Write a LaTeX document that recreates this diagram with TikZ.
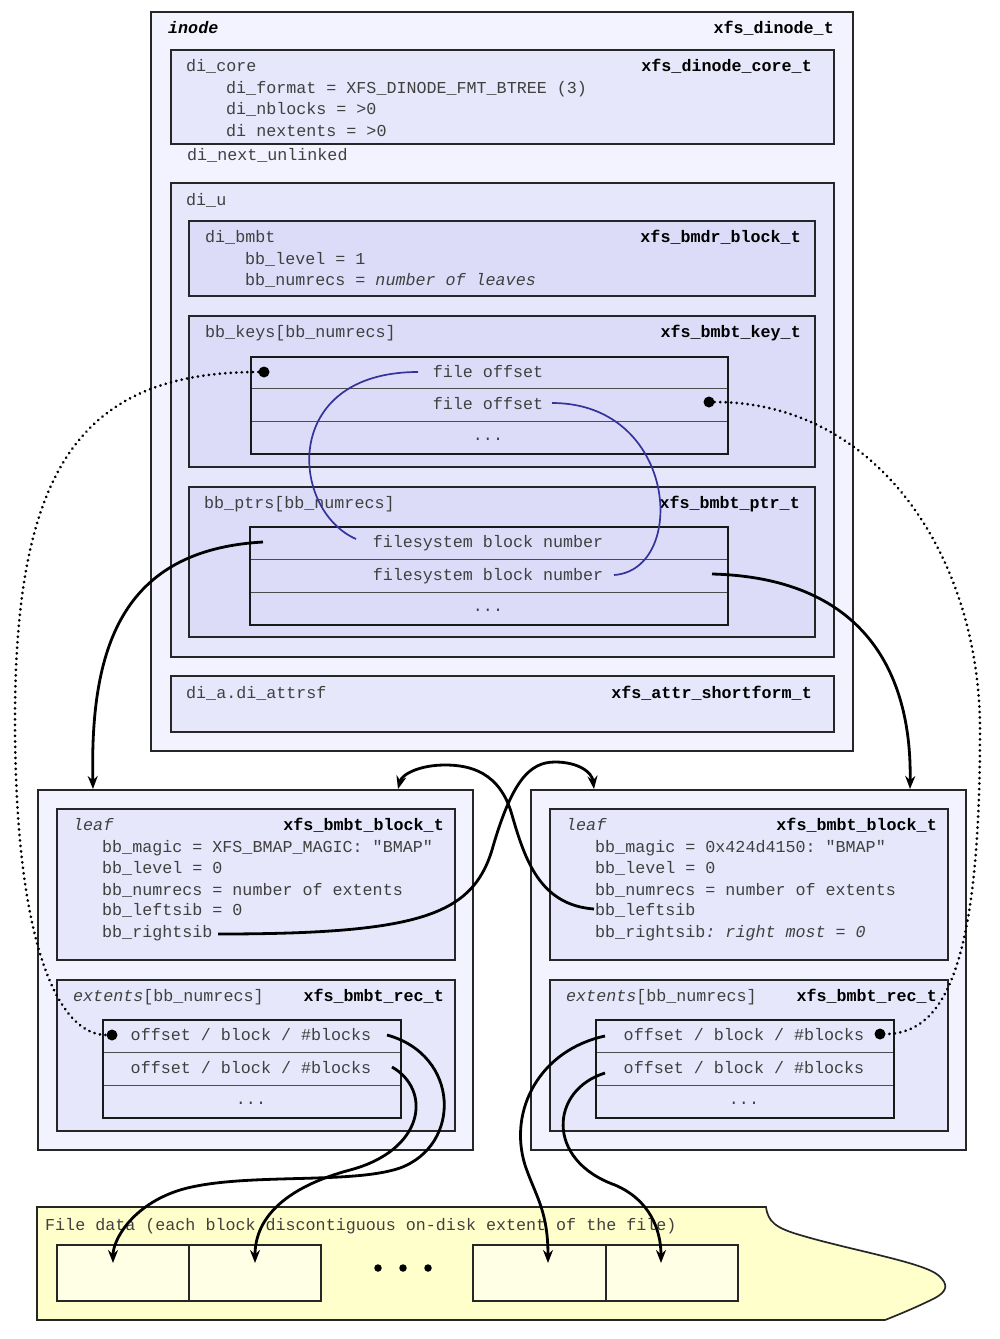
\documentclass[tikz,border=0pt]{standalone}
\usepackage{fontspec}
\setmonofont{Liberation Mono}
\usetikzlibrary{arrows.meta}
\definecolor{lavA}{HTML}{F3F3FF}
\definecolor{lavB}{HTML}{E7E7FB}
\definecolor{lavC}{HTML}{DCDCF9}
\definecolor{yelA}{HTML}{FFFFCC}
\definecolor{yelB}{HTML}{FFFFE6}
\definecolor{txtg}{HTML}{404040}
\definecolor{bluel}{HTML}{333399}
\newcommand{\mf}{\ttfamily\fontsize{16.7pt}{20pt}\selectfont}
\tikzset{
  bx/.style={draw=black!85, line width=1.7pt, anchor=north west, inner sep=0pt},
  rowc/.style={draw=black!70, line width=1.3pt, anchor=north west, inner sep=0pt},
  tblo/.style={draw=black!90, line width=1.5pt, anchor=north west, inner sep=0pt},
  lbl/.style={anchor=base west, inner sep=0pt, text=txtg, font=\mf},
  cen/.style={anchor=base, inner sep=0pt, text=txtg, font=\mf},
  typ/.style={anchor=base east, inner sep=0pt, text=black, font=\mf\bfseries},
  dotc/.style={circle, fill=black, inner sep=0pt, minimum size=11pt},
  bigdot/.style={circle, fill=black, inner sep=0pt, minimum size=7.5pt},
  ptr/.style={line width=2.8pt, -{Stealth[length=13pt,width=10pt]}},
  dotl/.style={line width=3pt, dash pattern=on 0.01pt off 5.5pt, line cap=round},
  bcurve/.style={draw=bluel, line width=1.7pt},
  dblk/.style={draw=black!85, line width=1.7pt, fill=yelB, anchor=north west, inner sep=0pt, minimum width=132pt, minimum height=56pt}
}
\begin{document}
\begin{tikzpicture}[x=1pt,y=-1pt]
\useasboundingbox[fill=white] (0,0) rectangle (1000,1339);

% ---------------- inode ----------------
\node[bx, fill=lavA, minimum width=702pt, minimum height=739pt] (inode) at (150,11) {};
\node[lbl, text=black, font=\mf\bfseries\itshape] (tinode) at (168,33) {inode};
\node[typ] (tdinode) at (834,33) {xfs\_dinode\_t};

\node[bx, fill=lavB, minimum width=663pt, minimum height=94pt] (dicore) at (170,49) {};
\node[lbl] (tdicore) at (186,71) {di\_core};
\node[typ] (tdicoret) at (812,71) {xfs\_dinode\_core\_t};
\node[lbl] (tfmt) at (226,93) {di\_format = XFS\_DINODE\_FMT\_BTREE (3)};
\node[lbl] (tnbl) at (226,114) {di\_nblocks = >0};
\node[lbl] (tnext) at (226,136) {di nextents = >0};
\node[lbl] (tunl) at (187,160) {di\_next\_unlinked};

\node[bx, fill=lavB, minimum width=663pt, minimum height=474pt] (diu) at (170,182) {};
\node[lbl] (tdiu) at (186,205) {di\_u};

\node[bx, fill=lavC, minimum width=626pt, minimum height=75pt] (dibmbt) at (188,220) {};
\node[lbl] (tdibmbt) at (205,242) {di\_bmbt};
\node[typ] (tbmdr) at (801,242) {xfs\_bmdr\_block\_t};
\node[lbl] (tlev) at (245,264) {bb\_level = 1};
\node[lbl] (tnrec) at (245,285) {bb\_numrecs = \textit{number of leaves}};

% keys
\node[bx, fill=lavC, minimum width=626pt, minimum height=151pt] (keys) at (188,315) {};
\node[lbl] (tkeys) at (205,337) {bb\_keys[bb\_numrecs]};
\node[typ] (tkeyt) at (801,337) {xfs\_bmbt\_key\_t};
\node[rowc, fill=lavC, minimum width=477pt, minimum height=32pt] (k1) at (250,356) {};
\node[rowc, fill=lavC, minimum width=477pt, minimum height=33pt] (k2) at (250,388) {};
\node[rowc, fill=lavC, minimum width=477pt, minimum height=32pt] (k3) at (250,421) {};
\node[tblo, minimum width=477pt, minimum height=97pt] (ktbl) at (250,356) {};
\node[cen] (tk1) at (488,377) {file offset};
\node[cen] (tk2) at (488,409) {file offset};
\node[cen] (tk3) at (488,440) {...};

% ptrs
\node[bx, fill=lavC, minimum width=626pt, minimum height=150pt] (ptrs) at (188,486) {};
\node[lbl] (tptrs) at (204,508) {bb\_ptrs[bb\_numrecs]};
\node[typ] (tptrt) at (800,508) {xfs\_bmbt\_ptr\_t};
\node[rowc, fill=lavC, minimum width=478pt, minimum height=33pt] (p1) at (249,526) {};
\node[rowc, fill=lavC, minimum width=478pt, minimum height=33pt] (p2) at (249,559) {};
\node[rowc, fill=lavC, minimum width=478pt, minimum height=32pt] (p3) at (249,592) {};
\node[tblo, minimum width=478pt, minimum height=98pt] (ptbl) at (249,526) {};
\node[cen] (tp1) at (488,547) {filesystem block number};
\node[cen] (tp2) at (488,580) {filesystem block number};
\node[cen] (tp3) at (488,611) {...};

% attr
\node[bx, fill=lavB, minimum width=663pt, minimum height=56pt] (dia) at (170,675) {};
\node[lbl] (tdia) at (186,698) {di\_a.di\_attrsf};
\node[typ] (tdiat) at (812,698) {xfs\_attr\_shortform\_t};

% ---------------- left leaf ----------------
\node[bx, fill=lavA, minimum width=435pt, minimum height=360pt] (leafL) at (37,789) {};
\node[bx, fill=lavB, minimum width=398pt, minimum height=151pt] (hdrL) at (56,808) {};
\node[lbl, font=\mf\itshape] (tleafL) at (73,830) {leaf};
\node[typ] (tblkL) at (444,830) {xfs\_bmbt\_block\_t};
\node[lbl] (tmagL) at (102,852) {bb\_magic = XFS\_BMAP\_MAGIC: "BMAP"};
\node[lbl] (tlevL) at (102,873) {bb\_level = 0};
\node[lbl] (tnrL) at (102,895) {bb\_numrecs = number of extents};
\node[lbl] (tlsL) at (102,915) {bb\_leftsib = 0};
\node[lbl] (trsL) at (102,937) {bb\_rightsib};
\node[bx, fill=lavB, minimum width=398pt, minimum height=151pt] (extL) at (56,979) {};
\node[lbl] (textL) at (73,1001) {\textit{extents}[bb\_numrecs]};
\node[typ] (trecL) at (444,1001) {xfs\_bmbt\_rec\_t};
\node[rowc, fill=lavB, minimum width=298pt, minimum height=33pt] (eL1) at (102,1019) {};
\node[rowc, fill=lavB, minimum width=298pt, minimum height=33pt] (eL2) at (102,1052) {};
\node[rowc, fill=lavB, minimum width=298pt, minimum height=32pt] (eL3) at (102,1085) {};
\node[tblo, minimum width=298pt, minimum height=98pt] (eLt) at (102,1019) {};
\node[cen] (teL1) at (251,1040) {offset / block / \#blocks};
\node[cen] (teL2) at (251,1073) {offset / block / \#blocks};
\node[cen] (teL3) at (251,1104) {...};

% ---------------- right leaf ----------------
\node[bx, fill=lavA, minimum width=435pt, minimum height=360pt] (leafR) at (530,789) {};
\node[bx, fill=lavB, minimum width=398pt, minimum height=151pt] (hdrR) at (549,808) {};
\node[lbl, font=\mf\itshape] (tleafR) at (566,830) {leaf};
\node[typ] (tblkR) at (937,830) {xfs\_bmbt\_block\_t};
\node[lbl] (tmagR) at (595,852) {bb\_magic = 0x424d4150: "BMAP"};
\node[lbl] (tlevR) at (595,873) {bb\_level = 0};
\node[lbl] (tnrR) at (595,895) {bb\_numrecs = number of extents};
\node[lbl] (tlsR) at (595,915) {bb\_leftsib};
\node[lbl] (trsR) at (595,937) {bb\_rightsib\textit{: right most = 0}};
\node[bx, fill=lavB, minimum width=398pt, minimum height=151pt] (extR) at (549,979) {};
\node[lbl] (textR) at (566,1001) {\textit{extents}[bb\_numrecs]};
\node[typ] (trecR) at (937,1001) {xfs\_bmbt\_rec\_t};
\node[rowc, fill=lavB, minimum width=298pt, minimum height=33pt] (eR1) at (595,1019) {};
\node[rowc, fill=lavB, minimum width=298pt, minimum height=33pt] (eR2) at (595,1052) {};
\node[rowc, fill=lavB, minimum width=298pt, minimum height=32pt] (eR3) at (595,1085) {};
\node[tblo, minimum width=298pt, minimum height=98pt] (eRt) at (595,1019) {};
\node[cen] (teR1) at (744,1040) {offset / block / \#blocks};
\node[cen] (teR2) at (744,1073) {offset / block / \#blocks};
\node[cen] (teR3) at (744,1104) {...};

% ---------------- file data ----------------
\draw[draw=black!85, line width=1.7pt, fill=yelA] (37,1207) -- (766,1207)
  .. controls (768,1222) and (776,1228) .. (800,1235)
  .. controls (850,1250) and (922,1262) .. (938,1275)
  .. controls (950,1285) and (946,1292) .. (935,1298)
  .. controls (915,1308) and (895,1316) .. (885,1320) -- (37,1320) -- cycle;
\node[lbl] (tfile) at (45,1230) {File data (each block discontiguous on-disk extent of the file)};
\node[dblk] (b1) at (56,1244) {};
\node[dblk] (b2) at (188,1244) {};
\node[dblk, minimum width=133pt] (b3) at (472,1244) {};
\node[dblk] (b4) at (605,1244) {};
\node[bigdot] (el1) at (378,1268) {};
\node[bigdot] (el2) at (403,1268) {};
\node[bigdot] (el3) at (428,1268) {};

% ---------------- connectors ----------------
\coordinate (ka) at (418,372);
\coordinate (pa) at (356,539);
\coordinate (kb) at (552,403);
\coordinate (pb) at (614,575);
\draw[bcurve] (ka) .. controls (280,372) and (290,510) .. (pa);
\draw[bcurve] (kb) .. controls (678,403) and (688,570) .. (pb);

\node[dotc] (dk1) at (264,372) {};
\node[dotc] (dk2) at (709,402) {};
\node[dotc] (deL) at (112,1035) {};
\node[dotc] (deR) at (880,1034) {};
\coordinate (vl) at (15,720);
\coordinate (vr) at (980,730);
\draw[dotl] (dk1) .. controls (80,372) and (15,470) .. (vl) .. controls (15,950) and (60,1035) .. (deL);
\draw[dotl] (dk2) .. controls (880,402) and (980,560) .. (vr) .. controls (980,950) and (950,1034) .. (deR);

\coordinate (pp1) at (263,542);
\coordinate (pp2) at (712,574);
\coordinate (inL) at (93,789);
\coordinate (inR) at (910,789);
\draw[ptr] (pp1) .. controls (120,550) and (90,650) .. (inL);
\draw[ptr] (pp2) .. controls (870,578) and (912,680) .. (inR);

\coordinate (rsL) at (218,934);
\coordinate (topR) at (594,789);
\coordinate (rsm) at (492,850);
\draw[ptr] (rsL) .. controls (420,934) and (472,915) .. (rsm) .. controls (512,780) and (530,762) .. (555,762) .. controls (578,762) and (592,772) .. (topR);
\coordinate (lsR) at (594,909);
\coordinate (topL) at (398,789);
\coordinate (lsm) at (512,815);
\draw[ptr] (lsR) .. controls (540,905) and (525,860) .. (lsm) .. controls (500,772) and (470,765) .. (445,765) .. controls (420,765) and (402,774) .. (topL);

\coordinate (eLa) at (387,1035);
\coordinate (eLb) at (392,1067);
\coordinate (eRa) at (605,1036);
\coordinate (eRb) at (605,1073);
\coordinate (bt1) at (113,1263);
\coordinate (bt2) at (255,1263);
\coordinate (bt3) at (548,1263);
\coordinate (bt4) at (661,1263);
\draw[ptr] (eLa) .. controls (460,1055) and (462,1145) .. (400,1168) .. controls (350,1185) and (240,1172) .. (180,1190) .. controls (132,1205) and (113,1240) .. (bt1);
\draw[ptr] (eLb) .. controls (432,1090) and (425,1150) .. (350,1170) .. controls (290,1186) and (255,1215) .. (bt2);
\draw[ptr] (eRa) .. controls (540,1050) and (508,1110) .. (525,1165) .. controls (535,1195) and (548,1210) .. (bt3);
\draw[ptr] (eRb) .. controls (550,1090) and (545,1160) .. (615,1185) .. controls (650,1200) and (661,1230) .. (bt4);
\end{tikzpicture}
\end{document}
